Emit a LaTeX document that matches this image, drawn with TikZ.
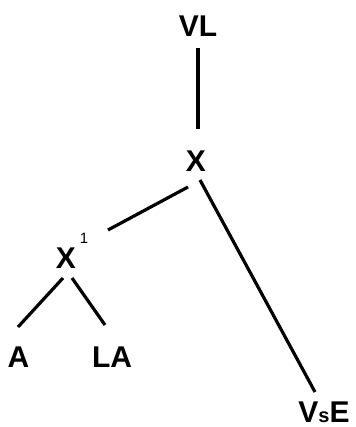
\documentclass[tikz,border=0pt]{standalone}
\usepackage{fontspec}
\setmainfont{Liberation Sans}
\begin{document}
\begin{tikzpicture}[x=1pt,y=-1pt,
  lbl/.style={font=\fontsize{30}{32}\bfseries\selectfont, inner sep=0pt, anchor=base},
  edge/.style={line width=3.2pt}]
\useasboundingbox (0,0) rectangle (355,427);
\node[lbl] (VL) at (198,37) {VL};
\node[lbl] (X) at (196,172) {X};
\node[lbl] (X1) at (66,268) {X};
\node[font=\fontsize{15}{16}\selectfont, inner sep=0pt] (one) at (84,238) {1};
\node[lbl] (A) at (18.5,367) {A};
\node[lbl] (LA) at (112,367) {LA};
\node[lbl] (VsE) at (324,422) {V{\fontsize{20}{22}\selectfont s}E};
\coordinate (a1) at (198,48);
\coordinate (a2) at (198,129);
\draw[edge] (a1) -- (a2);
\coordinate (b1) at (188,187);
\coordinate (b2) at (108,230);
\draw[edge] (b1) -- (b2);
\coordinate (c1) at (200,180);
\coordinate (c2) at (315,392);
\draw[edge] (c1) -- (c2);
\coordinate (d1) at (63,278);
\coordinate (d2) at (18,327);
\draw[edge] (d1) -- (d2);
\coordinate (e1) at (72,278);
\coordinate (e2) at (105,325);
\draw[edge] (e1) -- (e2);
\end{tikzpicture}
\end{document}
